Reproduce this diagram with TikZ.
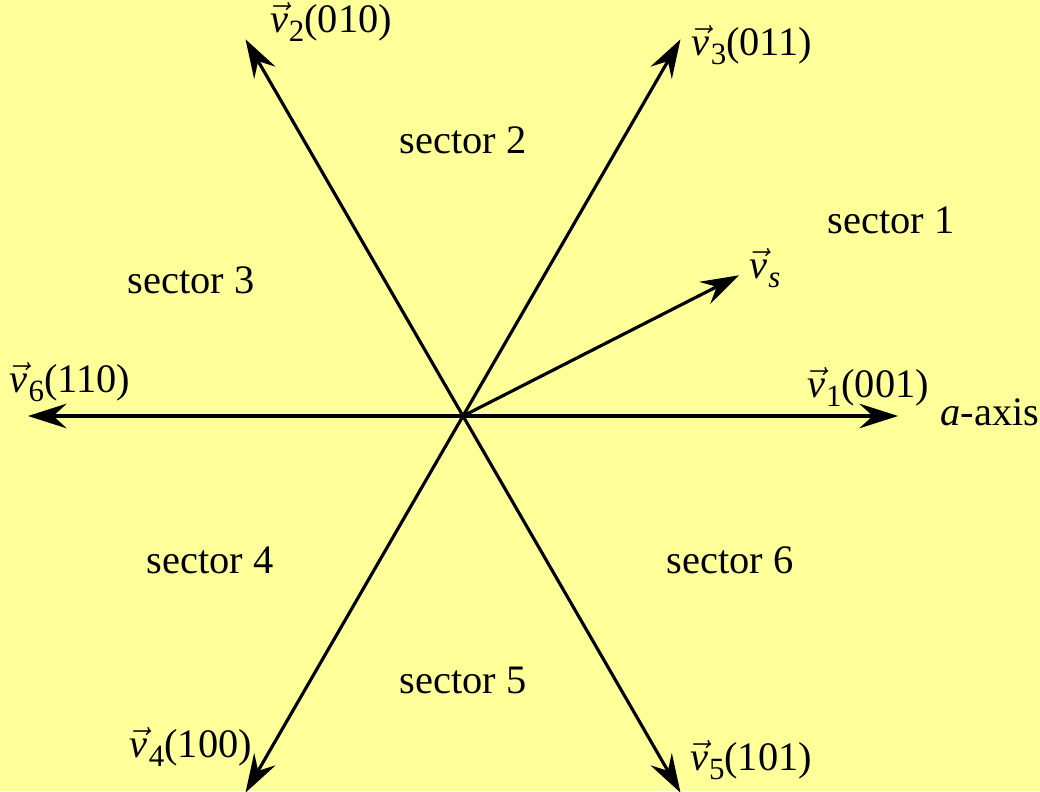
\documentclass[tikz,border=0pt]{standalone}
\usepackage{fontspec}
\setmainfont{Liberation Serif}
\usetikzlibrary{arrows.meta,calc}
\definecolor{bgyellow}{RGB}{255,255,153}
\newcommand\vecv[1]{$\vec{\mathit{v}}$\kern0.3pt\raisebox{-2.6pt}{\fontsize{8.8}{10}\selectfont #1}}

\begin{document}
\begin{tikzpicture}[x=1cm,y=1cm,
    vecarrow/.style={-{Stealth[length=11pt,width=7pt,inset=3.8pt]},line width=0.9pt},
    vlabel/.style={font=\fontsize{11.5}{13}\selectfont,inner sep=0pt},
    sectorlabel/.style={font=\fontsize{11.5}{13}\selectfont,inner sep=0pt}]
  \useasboundingbox (0,0) rectangle (10.40,7.91);
  \fill[bgyellow] (0,0) rectangle (10.40,7.91);
  \coordinate (O) at (4.63,3.75);
  % six base vectors, then the reference vector
  \foreach \n/\a in {1/0,3/60,2/120,6/180,4/240,5/300}{
    \coordinate (t\n) at ($(O)+(\a:4.35)$);
    \draw[vecarrow] (O) -- (t\n);
  }
  \coordinate (ts) at ($(O)+(27:3.1)$);
  \draw[vecarrow] (O) -- (ts);
  \node[vlabel] (v1) at (8.68,4.04) {\vecv{1}(001)};
  \node[vlabel] (axis) at (9.90,3.79) {\textit{a}-axis};
  \node[vlabel] (v6) at (0.70,4.09) {\vecv{6}(110)};
  \node[vlabel] (v2) at (3.31,7.69) {\vecv{2}(010)};
  \node[vlabel] (v3) at (7.52,7.46) {\vecv{3}(011)};
  \node[vlabel] (vs) at (7.65,5.23) {\vecv{\itshape s}};
  \node[vlabel] (v4) at (1.91,0.44) {\vecv{4}(100)};
  \node[vlabel] (v5) at (7.51,0.31) {\vecv{5}(101)};
  \node[sectorlabel] (s1) at (8.91,5.71) {sector 1};
  \node[sectorlabel] (s2) at (4.63,6.51) {sector 2};
  \node[sectorlabel] (s3) at (1.91,5.11) {sector 3};
  \node[sectorlabel] (s4) at (2.10,2.31) {sector 4};
  \node[sectorlabel] (s5) at (4.63,1.11) {sector 5};
  \node[sectorlabel] (s6) at (7.30,2.31) {sector 6};
\end{tikzpicture}
\end{document}
